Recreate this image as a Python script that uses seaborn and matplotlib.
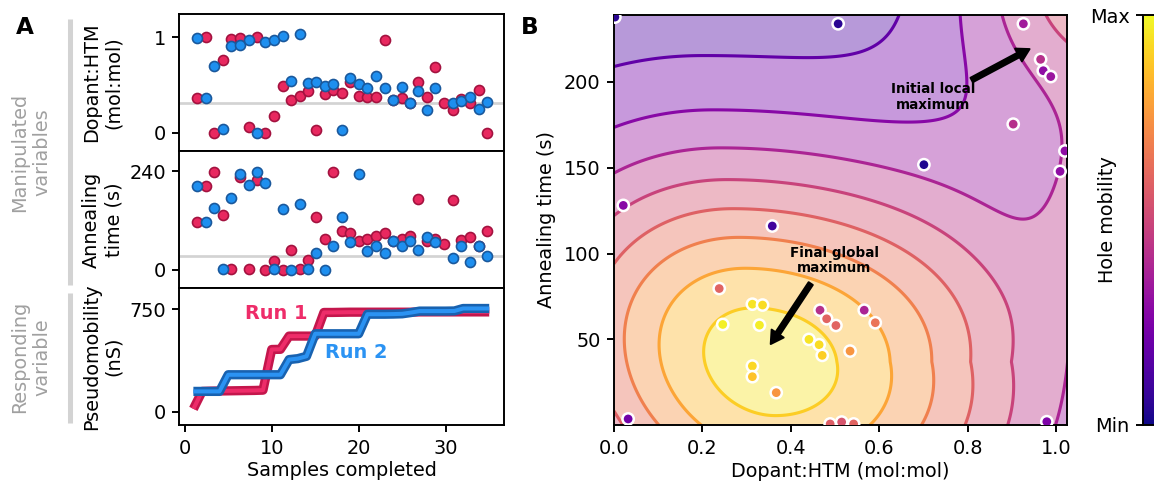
import numpy as np
import pandas as pd
import matplotlib
matplotlib.use("Agg")
import matplotlib.pyplot as plt
import matplotlib.patheffects as pe
from matplotlib.lines import Line2D
from matplotlib.colors import Normalize
from matplotlib.cm import ScalarMappable
import seaborn as sns

# ---------------- Panel A data ----------------
sample_x = [1.38, 2.41, 3.41, 4.38, 5.34, 6.30, 7.34, 8.30, 9.26, 10.30,
            11.26, 12.22, 13.20, 14.15, 15.13, 16.10, 17.10, 18.08, 19.00, 20.07,
            21.00, 22.00, 22.98, 23.93, 24.96, 25.90, 26.85, 27.83, 28.80, 29.84,
            30.80, 31.77, 32.77, 33.80, 34.75]
run1_dopant = [0.36, 1.00, 0.00, 0.76, 0.98, 0.99, 0.06, 1.00, 0.00, 0.18,
               0.49, 0.34, 0.39, 0.44, 0.03, 0.41, 0.45, 0.42, 0.53, 0.39,
               0.38, 0.38, 0.97, 0.34, 0.36, 0.31, 0.53, 0.37, 0.69, 0.31,
               0.24, 0.35, 0.31, 0.45, 0.00]
run2_dopant = [0.99, 0.36, 0.70, 0.04, 0.91, 0.92, 0.97, 0.00, 0.95, 0.97,
               1.01, 0.54, 1.03, 0.52, 0.53, 0.49, 0.51, 0.03, 0.57, 0.51,
               0.47, 0.59, 0.47, 0.34, 0.48, 0.31, 0.44, 0.24, 0.47, np.nan,
               0.31, 0.33, 0.37, 0.25, 0.32]
run1_time = [116, 203, 238, 134, 2, 226, 2, 218, 0, 22,
             0, 49, 2, 24, 128, 75, 238, 94, 89, 71,
             75, 83, 89, 71, 75, 83, 173, 71, 75, 63,
             169, 73, 81, 59, 94]
run2_time = [203, 116, 151, 3, 175, 233, 207, 238, 212, 2,
             147, 0, 159, 2, 42, 0, 57, 128, 67, 233,
             47, 59, 41, 71, 59, 71, 49, 81, 69, np.nan,
             29, 57, 20, 59, 34]
samples = list(range(1, 36))
run1_best = [20, 148, 150, 151, 152, 153, 154, 155, 157, 455,
             456, 553, 553, 553, 553, 726, 726, 727, 728, 728,
             728, 728, 728, 728, 728, 728, 730, 730, 730, 730,
             730, 730, 730, 730, 730]
run2_best = [148, 148, 148, 148, 270, 270, 270, 270, 270, 270,
             270, 381, 388, 405, 570, 570, 570, 570, 570, 570,
             713, 713, 713, 714, 716, 725, 736, 736, 736, 736,
             737, 755, 755, 755, 755]
optimum_dopant = 0.317
optimum_time = 33.5

# ---------------- Panel B data ----------------
b_dopant = [0.002, 0.507, 0.926, 0.965, 0.971, 0.988, 0.903, 1.020, 1.009, 0.701,
            0.021, 0.358, 0.238, 0.313, 0.336, 0.246, 0.329, 0.466, 0.481, 0.502,
            0.566, 0.591, 0.441, 0.464, 0.471, 0.534, 0.313, 0.313, 0.367, 0.032,
            0.489, 0.515, 0.542, 0.979]
b_time = [237.6, 233.7, 233.7, 213.0, 206.4, 203.0, 175.3, 159.7, 147.8, 151.7,
          128.0, 116.0, 79.6, 70.5, 70.0, 58.7, 58.3, 67.0, 62.0, 58.1,
          67.0, 59.7, 50.0, 46.9, 40.7, 43.2, 34.5, 28.3, 19.0, 3.7,
          0.8, 1.9, 0.8, 2.1]
b_mobility = [0.05, 0.05, 0.35, 0.42, 0.30, 0.33, 0.42, 0.30, 0.30, 0.03,
              0.28, 0.10, 0.60, 0.95, 0.93, 0.98, 0.97, 0.42, 0.60, 0.60,
              0.38, 0.65, 0.95, 0.93, 0.90, 0.75, 0.92, 0.87, 0.75, 0.22,
              0.58, 0.55, 0.60, 0.25]

# mobility surface: a few Gaussian components
peak_xy = (0.34, 37.0)
peak_amp = 0.95
peak_tilt = -0.0008
peak_sx_left, peak_sx_right = 0.37, 0.45
peak_sx_right_grow = 0.001
peak_sy = 86.0
corner_xy, corner_amp, corner_s = (1.08, 265.0), 0.50, (0.22, 60.0)
ridge_xy, ridge_amp, ridge_s = (1.12, 125.0), 0.20, (0.10, 55.0)
levels = np.linspace(0, 1, 10)

# ---------------- style ----------------
sns.set_theme(style="ticks")
plt.rcParams.update({
    "font.family": ["DejaVu Sans"],
    "font.size": 10, "axes.labelsize": 10,
    "xtick.labelsize": 10, "ytick.labelsize": 10,
    "axes.edgecolor": "black", "axes.linewidth": 1.0,
    "xtick.color": "black", "ytick.color": "black",
    "text.color": "black", "axes.labelcolor": "black",
    "xtick.major.size": 3.5, "ytick.major.size": 3.5,
    "xtick.major.width": 1.0, "ytick.major.width": 1.0,
})

W, H = 1154, 484
fig = plt.figure(figsize=(W / 139, H / 139), dpi=139)

def box(l, t, r, b):
    return [l / W, 1 - b / H, (r - l) / W, (b - t) / H]

ax1 = fig.add_axes(box(179.3, 14.3, 504, 151))
ax2 = fig.add_axes(box(179.3, 151, 504, 288), sharex=ax1)
ax3 = fig.add_axes(box(179.3, 288, 504, 425), sharex=ax1)
axB = fig.add_axes(box(614, 14.7, 1066.7, 425.3))
cax = fig.add_axes(box(1143.3, 15, 1165, 425))

red_face, red_edge = "#E8285F", "#A3123F"
blue_face, blue_edge = "#1E8FEF", "#1A589C"
red_line_in, red_line_out = "#EE2C69", "#C4164C"
blue_line_in, blue_line_out = "#2B93F3", "#1862B0"

dfA = pd.DataFrame({"x": sample_x, "d1": run1_dopant, "d2": run2_dopant,
                    "t1": run1_time, "t2": run2_time})

for ax, c1, c2 in [(ax1, "d1", "d2"), (ax2, "t1", "t2")]:
    sns.scatterplot(data=dfA, x="x", y=c1, ax=ax, color=red_face, edgecolor=red_edge,
                    linewidth=0.85, s=27, zorder=3, legend=False)
    sns.scatterplot(data=dfA, x="x", y=c2, ax=ax, color=blue_face, edgecolor=blue_edge,
                    linewidth=0.85, s=27, zorder=4, legend=False)

ax1.axhline(optimum_dopant, color="#d3d3d3", lw=1.4, zorder=1)
ax2.axhline(optimum_time, color="#d3d3d3", lw=1.4, zorder=1)

dfL = pd.DataFrame({"s": samples, "r1": run1_best, "r2": run2_best})
sns.lineplot(data=dfL, x="s", y="r1", ax=ax3, color=red_line_in, lw=2.1,
             solid_joinstyle="round", solid_capstyle="butt",
             path_effects=[pe.Stroke(linewidth=4.8, foreground=red_line_out), pe.Normal()])
sns.lineplot(data=dfL, x="s", y="r2", ax=ax3, color=blue_line_in, lw=2.1,
             solid_joinstyle="round", solid_capstyle="butt",
             path_effects=[pe.Stroke(linewidth=4.8, foreground=blue_line_out), pe.Normal()])
ax3.text(10.5, 720, "Run 1", color=red_line_in, fontsize=10, fontweight="bold",
         ha="center", va="center")
ax3.text(19.75, 433, "Run 2", color=blue_line_in, fontsize=10, fontweight="bold",
         ha="center", va="center")

ax1.set_xlim(-0.62, 36.7)
ax1.set_ylim(-0.19, 1.24)
ax2.set_ylim(-44, 289)
ax3.set_ylim(-98, 905)
ax1.set_yticks([0, 1])
ax2.set_yticks([0, 240])
ax3.set_yticks([0, 750])
ax3.set_xticks([0, 10, 20, 30])
for ax in (ax1, ax2):
    ax.tick_params(axis="x", bottom=False, labelbottom=False)
ax1.set_xlabel("")
ax2.set_xlabel("")
ax3.set_xlabel("Samples completed", labelpad=2)
ax1.set_ylabel("Dopant:HTM\n(mol:mol)")
ax2.set_ylabel("Annealing\ntime (s)")
ax3.set_ylabel("Pseudomobility\n(nS)")
for ax in (ax1, ax2, ax3):
    ax.yaxis.set_label_coords(-0.1725, 0.5)
    for sp in ax.spines.values():
        sp.set_visible(True)

# ---------------- Panel B ----------------
gx = np.linspace(0, 1.03, 320)
gy = np.linspace(0, 240, 320)
X, Y = np.meshgrid(gx, gy)
above = np.clip(Y - peak_xy[1], 0, None)
xc = peak_xy[0] + peak_tilt * (Y - peak_xy[1])
dx = X - xc
sx = np.where(dx < 0, peak_sx_left, peak_sx_right + peak_sx_right_grow * above)
Z = peak_amp * np.exp(-0.5 * ((dx / sx) ** 2 + ((Y - peak_xy[1]) / peak_sy) ** 2))
Z += corner_amp * np.exp(-0.5 * (((X - corner_xy[0]) / corner_s[0]) ** 2
                                 + ((Y - corner_xy[1]) / corner_s[1]) ** 2))
Z += ridge_amp * np.exp(-0.5 * (((X - ridge_xy[0]) / ridge_s[0]) ** 2
                                + ((Y - ridge_xy[1]) / ridge_s[1]) ** 2))

surf_norm = Normalize(-0.08, 1.0)
axB.contourf(X, Y, Z, levels=levels, cmap="plasma", norm=surf_norm, alpha=0.4, zorder=0)
axB.contour(X, Y, Z, levels=levels[1:-1], cmap="plasma", norm=surf_norm,
            linewidths=1.6, zorder=1)

dfB = pd.DataFrame({"x": b_dopant, "y": b_time, "m": b_mobility})
sns.scatterplot(data=dfB, x="x", y="y", hue="m", palette="plasma", hue_norm=(0, 1),
                s=34, edgecolor="white", linewidth=1.3, ax=axB, legend=False, zorder=3)

axB.annotate("", xy=(0.94, 219), xytext=(0.809, 201),
             arrowprops=dict(facecolor="black", edgecolor="black", width=2.6,
                             headwidth=7.5, headlength=6.5, shrink=0), zorder=4)
axB.text(0.722, 191, "Initial local\nmaximum", fontsize=7, fontweight="bold",
         ha="center", va="center", linespacing=1.15, zorder=4)
axB.annotate("", xy=(0.3545, 47.3), xytext=(0.445, 82.5),
             arrowprops=dict(facecolor="black", edgecolor="black", width=2.6,
                             headwidth=7.5, headlength=6.5, shrink=0), zorder=4)
axB.text(0.498, 96, "Final global\nmaximum", fontsize=7, fontweight="bold",
         ha="center", va="center", linespacing=1.15, zorder=4)

axB.set_xlim(0, 1.024)
axB.set_ylim(0, 239)
axB.set_xticks([0.0, 0.2, 0.4, 0.6, 0.8, 1.0])
axB.set_yticks([50, 100, 150, 200])
axB.set_xlabel("Dopant:HTM (mol:mol)", labelpad=2)
axB.set_ylabel("Annealing time (s)")

cb = fig.colorbar(ScalarMappable(norm=Normalize(0, 1), cmap="plasma"), cax=cax)
cb.set_ticks([0, 1])
cb.set_ticklabels(["Min", "Max"])
cax.yaxis.set_ticks_position("left")
cax.yaxis.set_label_position("left")
cb.set_label("Hole mobility")
cax.yaxis.set_label_coords(-1.21, 0.5)
cb.outline.set_linewidth(1.0)

# ---------------- figure annotations ----------------
fig.text(25 / W, 1 - 28 / H, "A", fontsize=12, fontweight="bold", ha="center", va="center")
fig.text(530 / W, 1 - 28 / H, "B", fontsize=12, fontweight="bold", ha="center", va="center")
fig.text(31 / W, 1 - 152 / H, "Manipulated\nvariables", color="#a0a0a0", fontsize=10,
         rotation=90, ha="center", va="center")
fig.text(31 / W, 1 - 357 / H, "Responding\nvariable", color="#a0a0a0", fontsize=10,
         rotation=90, ha="center", va="center")
fig.add_artist(Line2D([70 / W, 70 / W], [1 - 19 / H, 1 - 285 / H], lw=2.6,
                      color="#d3d3d3", solid_capstyle="butt", transform=fig.transFigure))
fig.add_artist(Line2D([70 / W, 70 / W], [1 - 293 / H, 1 - 423 / H], lw=2.6,
                      color="#d3d3d3", solid_capstyle="butt", transform=fig.transFigure))

fig.savefig("out.png", dpi=139)
